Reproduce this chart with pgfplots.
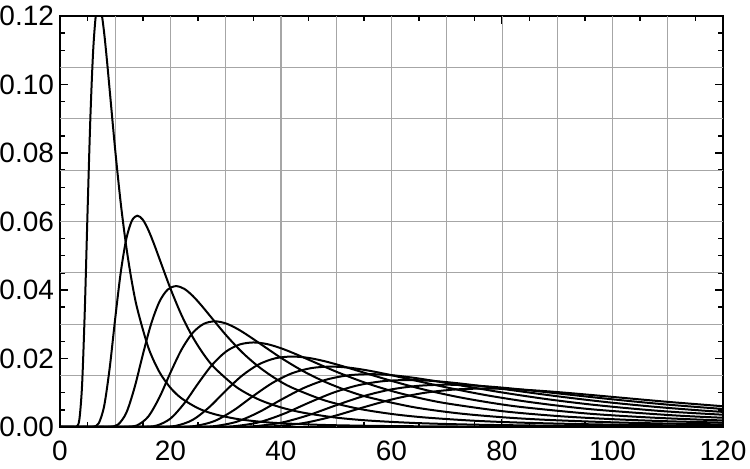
\documentclass[border=0pt]{standalone}
\usepackage{pgfplots}
\pgfplotsset{compat=1.18}
\usepackage{fontspec}
\setmainfont{Liberation Sans}
\begin{document}
\begin{tikzpicture}
\begin{axis}[
  scale only axis, width=331.5pt, height=205.5pt,
  xmin=0, xmax=120, ymin=0, ymax=0.12,
  xtick={0,20,...,120}, minor x tick num=3,
  ytick={0,0.02,0.04,0.06,0.08,0.10,0.12}, minor y tick num=3,
  scaled y ticks=false,
  yticklabel style={xshift=0.5pt, /pgf/number format/.cd, fixed, fixed zerofill, precision=2},
  /pgf/number format/assume math mode=true,
  tick label style={font=\fontsize{14}{16}\selectfont},
  xticklabel style={yshift=-3.5pt},
  tick align=inside, xtick pos=both, ytick pos=both,
  major tick length=4pt, minor tick length=2.5pt,
  every tick/.style={black, line width=0.7pt},
  axis line style={line width=1pt},
  extra x ticks={10,20,...,110}, extra x tick labels={},
  extra x tick style={grid=major, major tick length=0pt},
  extra y ticks={0.015,0.03,0.045,0.06,0.075,0.09,0.105}, extra y tick labels={},
  extra y tick style={grid=major, major tick length=0pt},
  major grid style={line width=0.5pt, gray!70},
  curve/.style={black, solid, line width=1pt, smooth, mark=none},
]
% curve 1
\addplot[curve] coordinates {(0,0)(2.5,0)(3,0.000088)(3.5,0.002093)(4,0.01235)(4.5,0.03462)(5,0.06355)(5.5,0.09038)(6,0.1098)(6.5,0.1204)(7,0.1234)(7.5,0.1210)(8,0.11496)(8.5,0.1070)(9,0.09824)(10,0.08075)(11,0.06529)(12,0.05261)(13,0.04245)(14,0.03445)(16,0.02315)(18,0.01603)(20,0.01143)(22,0.008366)(25,0.005468)(28,0.003730)(32,0.002366)(36,0.001579)(40,0.001098)(48,0.000584)(60,0.000269)(80,0.0000985)(120,0.000024)};
% curve 2
\addplot[curve] coordinates {(0,0)(5,0)(6,0.000044)(7,0.001047)(8,0.006175)(9,0.01731)(10,0.03178)(11,0.04519)(12,0.0549)(13,0.0602)(14,0.0617)(15,0.0605)(16,0.05748)(17,0.0535)(18,0.04912)(20,0.04038)(22,0.03265)(24,0.02631)(26,0.02123)(28,0.01723)(32,0.01158)(36,0.008015)(40,0.005715)(44,0.004183)(50,0.002734)(56,0.001865)(64,0.001183)(72,0.000790)(80,0.000549)(96,0.000292)(120,0.000135)};
% curve 3
\addplot[curve] coordinates {(0,0)(7.5,0)(9,0.000029)(10.5,0.000698)(12,0.004117)(13.5,0.01154)(15,0.02118)(16.5,0.03013)(18,0.0366)(19.5,0.04013)(21,0.04113)(22.5,0.04033)(24,0.03832)(25.5,0.03567)(27,0.03275)(30,0.02692)(33,0.02176)(36,0.01754)(39,0.01415)(42,0.01148)(48,0.007717)(54,0.005343)(60,0.00381)(66,0.002789)(75,0.001823)(84,0.001243)(96,0.000789)(108,0.000526)(120,0.000366)};
% curve 4
\addplot[curve] coordinates {(0,0)(10,0)(12,0.000022)(14,0.000523)(16,0.003088)(18,0.008655)(20,0.01589)(22,0.0226)(24,0.02745)(26,0.0301)(28,0.03085)(30,0.03025)(32,0.02874)(34,0.02675)(36,0.02456)(40,0.02019)(44,0.01632)(48,0.01315)(52,0.01061)(56,0.008613)(64,0.005788)(72,0.004008)(80,0.002858)(88,0.002092)(100,0.001367)(112,0.000933)(128,0.000592)};
% curve 5
\addplot[curve] coordinates {(0,0)(12.5,0)(15,0.000018)(17.5,0.000419)(20,0.00247)(22.5,0.006924)(25,0.01271)(27.5,0.01808)(30,0.02196)(32.5,0.02408)(35,0.02468)(37.5,0.0242)(40,0.02299)(42.5,0.0214)(45,0.01965)(50,0.01615)(55,0.01306)(60,0.01052)(65,0.00849)(70,0.00689)(80,0.00463)(90,0.003206)(100,0.002286)(110,0.001673)(125,0.001094)};
% curve 6
\addplot[curve] coordinates {(0,0)(15,0)(18,0.000015)(21,0.000349)(24,0.002058)(27,0.00577)(30,0.01059)(33,0.01506)(36,0.0183)(39,0.02007)(42,0.02057)(45,0.02017)(48,0.01916)(51,0.01783)(54,0.01637)(60,0.01346)(66,0.01088)(72,0.008768)(78,0.007075)(84,0.005742)(96,0.003858)(108,0.002672)(120,0.001905)};
% curve 7
\addplot[curve] coordinates {(0,0)(17.5,0)(21,0.000013)(24.5,0.000299)(28,0.001764)(31.5,0.004946)(35,0.009079)(38.5,0.01291)(42,0.01569)(45.5,0.0172)(49,0.01763)(52.5,0.01729)(56,0.01642)(59.5,0.01529)(63,0.01403)(70,0.01154)(77,0.009327)(84,0.007516)(91,0.006064)(98,0.004921)(112,0.003307)(126,0.00229)};
% curve 8
\addplot[curve] coordinates {(0,0)(20,0)(24,0.000011)(28,0.000262)(32,0.001544)(36,0.004328)(40,0.007944)(44,0.0113)(48,0.01373)(52,0.01505)(56,0.01543)(60,0.01513)(64,0.01437)(68,0.01338)(72,0.01228)(80,0.01009)(88,0.008161)(96,0.006576)(104,0.005306)(112,0.004306)(128,0.002894)};
% curve 9
\addplot[curve] coordinates {(0,0)(22.5,0)(27,0.00001)(31.5,0.000233)(36,0.001372)(40.5,0.003847)(45,0.007061)(49.5,0.01004)(54,0.0122)(58.5,0.01338)(63,0.01371)(67.5,0.01344)(72,0.01277)(76.5,0.01189)(81,0.01092)(90,0.008972)(99,0.007254)(108,0.005846)(117,0.004717)(126,0.003828)};
% curve 10
\addplot[curve] coordinates {(0,0)(25,0)(30,0.0000088)(35,0.000209)(40,0.001235)(45,0.003462)(50,0.006355)(55,0.009038)(60,0.01098)(65,0.01204)(70,0.01234)(75,0.0121)(80,0.0115)(85,0.0107)(90,0.009824)(100,0.008075)(110,0.006529)(120,0.005261)};
% curve 11
\addplot[curve] coordinates {(0,0)(27.5,0)(33,0.000008)(38.5,0.00019)(44,0.001123)(49.5,0.003147)(55,0.005777)(60.5,0.008216)(66,0.009982)(71.5,0.01095)(77,0.01122)(82.5,0.011)(88,0.01045)(93.5,0.009727)(99,0.008931)(110,0.007341)(121,0.005935)};
\end{axis}
\pgfresetboundingbox
\path ([xshift=-30pt,yshift=8pt]current axis.north west) rectangle ([xshift=13.5pt,yshift=-21pt]current axis.south east);
\end{tikzpicture}
\end{document}
